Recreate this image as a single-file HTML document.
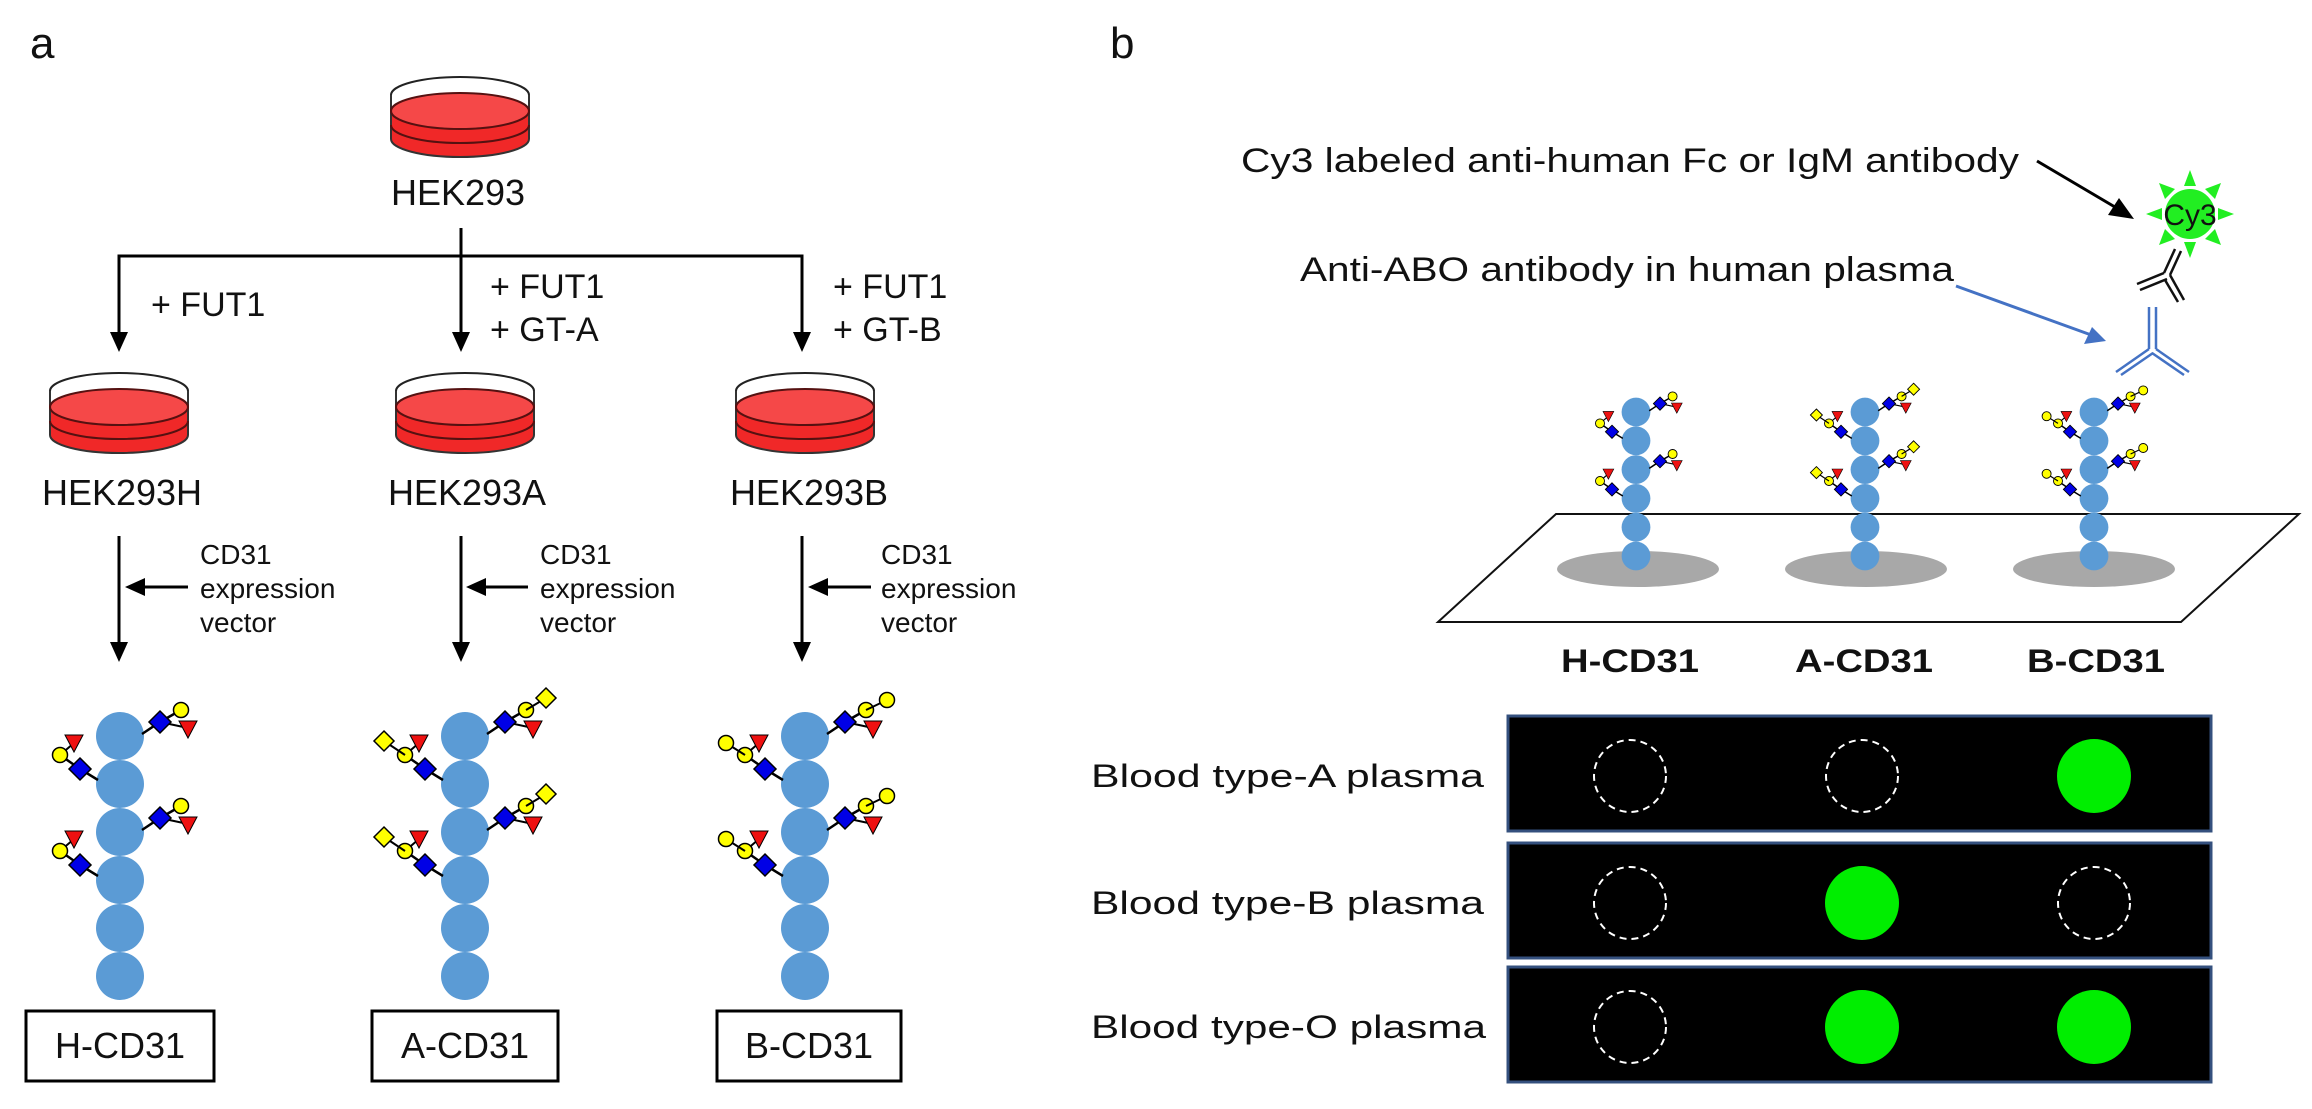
<!DOCTYPE html>
<html><head><meta charset="utf-8"><style>
html,body{margin:0;padding:0;background:#fff;}
svg{display:block;}
text{font-family:"Liberation Sans",sans-serif;fill:#111;}
</style></head><body>
<svg width="2312" height="1109" viewBox="0 0 2312 1109" xmlns="http://www.w3.org/2000/svg">
<defs>
  <marker id="ah" markerWidth="10" markerHeight="10" refX="9" refY="5" orient="auto" markerUnits="userSpaceOnUse" viewBox="0 0 10 10">
  </marker>
  <g id="dish">
    <ellipse cx="0" cy="-22" rx="69" ry="18" fill="#fff" stroke="#222" stroke-width="2"/>
    <rect x="-69" y="-22" width="138" height="14" fill="#fff"/>
    <ellipse cx="0" cy="22" rx="69" ry="18" fill="#f02828" stroke="#333" stroke-width="2"/>
    <rect x="-69" y="-6" width="138" height="28" fill="#f02828"/>
    <line x1="-69" y1="-6" x2="-69" y2="22" stroke="#333" stroke-width="2"/>
    <line x1="69" y1="-6" x2="69" y2="22" stroke="#333" stroke-width="2"/>
    <line x1="-69" y1="-22" x2="-69" y2="-6" stroke="#333" stroke-width="2"/>
    <line x1="69" y1="-22" x2="69" y2="-6" stroke="#333" stroke-width="2"/>
    <ellipse cx="0" cy="-6" rx="69" ry="18" fill="#f54848" stroke="#551111" stroke-width="2"/>
    <path d="M-69,8 A69,18 0 0 0 69,8" fill="none" stroke="#551111" stroke-width="2"/>
  </g>
  <g id="gR">
    <polyline points="22,-2 40,-14 61,-26" fill="none" stroke="#000" stroke-width="2.5"/>
    <line x1="40" y1="-14" x2="68" y2="-8" stroke="#000" stroke-width="2"/>
    <polygon points="40,-25 51,-14 40,-3 29,-14" fill="#0000e6" stroke="#000" stroke-width="1.5"/>
    <circle cx="61" cy="-26" r="7.5" fill="#ffff00" stroke="#000" stroke-width="1.5"/>
    <polygon points="59,-15 77,-15 68,2" fill="#ee1111" stroke="#000" stroke-width="1"/>
  </g>
  <g id="gL">
    <polyline points="-22,-4 -40,-15 -60,-29" fill="none" stroke="#000" stroke-width="2.5"/>
    <line x1="-60" y1="-29" x2="-46" y2="-41" stroke="#000" stroke-width="2"/>
    <polygon points="-40,-26 -29,-15 -40,-4 -51,-15" fill="#0000e6" stroke="#000" stroke-width="1.5"/>
    <circle cx="-60" cy="-29" r="7.5" fill="#ffff00" stroke="#000" stroke-width="1.5"/>
    <polygon points="-55,-49 -37,-49 -46,-32" fill="#ee1111" stroke="#000" stroke-width="1"/>
  </g>
  <g id="xAR"><line x1="61" y1="-26" x2="81" y2="-38" stroke="#000" stroke-width="2"/><polygon points="81,-48 91,-38 81,-28 71,-38" fill="#ffff00" stroke="#000" stroke-width="1.5"/></g>
  <g id="xAL"><line x1="-60" y1="-29" x2="-81" y2="-43" stroke="#000" stroke-width="2"/><polygon points="-81,-53 -71,-43 -81,-33 -91,-43" fill="#ffff00" stroke="#000" stroke-width="1.5"/></g>
  <g id="xBR"><line x1="61" y1="-26" x2="82" y2="-36" stroke="#000" stroke-width="2"/><circle cx="82" cy="-36" r="7.5" fill="#ffff00" stroke="#000" stroke-width="1.5"/></g>
  <g id="xBL"><line x1="-60" y1="-29" x2="-79" y2="-41" stroke="#000" stroke-width="2"/><circle cx="-79" cy="-41" r="7.5" fill="#ffff00" stroke="#000" stroke-width="1.5"/></g>
  <g id="circles" fill="#5b9bd5">
    <circle cx="0" cy="0" r="24"/><circle cx="0" cy="48" r="24"/><circle cx="0" cy="96" r="24"/>
    <circle cx="0" cy="144" r="24"/><circle cx="0" cy="192" r="24"/><circle cx="0" cy="240" r="24"/>
  </g>
  <g id="chH"><use href="#circles"/><use href="#gR"/><use href="#gR" y="96"/><use href="#gL" y="48"/><use href="#gL" y="144"/></g>
  <g id="chA"><use href="#circles"/><use href="#gR"/><use href="#gR" y="96"/><use href="#gL" y="48"/><use href="#gL" y="144"/>
    <use href="#xAR"/><use href="#xAR" y="96"/><use href="#xAL" y="48"/><use href="#xAL" y="144"/></g>
  <g id="chB"><use href="#circles"/><use href="#gR"/><use href="#gR" y="96"/><use href="#gL" y="48"/><use href="#gL" y="144"/>
    <use href="#xBR"/><use href="#xBR" y="96"/><use href="#xBL" y="48"/><use href="#xBL" y="144"/></g>
</defs>

<!-- Panel a -->
<text x="30" y="58" font-size="44">a</text>
<text x="1110" y="58" font-size="44">b</text>

<use href="#dish" x="460" y="117"/>
<text x="458" y="205" font-size="36" text-anchor="middle">HEK293</text>

<g stroke="#000" stroke-width="3" fill="none">
  <line x1="461" y1="228" x2="461" y2="335"/>
  <polyline points="119,335 119,256 802,256 802,335"/>
</g>
<g fill="#000">
  <polygon points="110,332 128,332 119,352"/>
  <polygon points="452,332 470,332 461,352"/>
  <polygon points="793,332 811,332 802,352"/>
</g>
<g font-size="34">
  <text x="151" y="316">+ FUT1</text>
  <text x="490" y="298">+ FUT1</text>
  <text x="490" y="341">+ GT-A</text>
  <text x="833" y="298">+ FUT1</text>
  <text x="833" y="341">+ GT-B</text>
</g>

<use href="#dish" x="119" y="413"/>
<use href="#dish" x="465" y="413"/>
<use href="#dish" x="805" y="413"/>
<g font-size="36" text-anchor="middle">
  <text x="122" y="505">HEK293H</text>
  <text x="467" y="505">HEK293A</text>
  <text x="809" y="505">HEK293B</text>
</g>

<g stroke="#000" stroke-width="3">
  <line x1="119" y1="536" x2="119" y2="645"/>
  <line x1="461" y1="536" x2="461" y2="645"/>
  <line x1="802" y1="536" x2="802" y2="645"/>
  <line x1="140" y1="587" x2="188" y2="587"/>
  <line x1="482" y1="587" x2="528" y2="587"/>
  <line x1="823" y1="587" x2="871" y2="587"/>
</g>
<g fill="#000">
  <polygon points="110,642 128,642 119,662"/>
  <polygon points="452,642 470,642 461,662"/>
  <polygon points="793,642 811,642 802,662"/>
  <polygon points="125,587 145,578 145,596"/>
  <polygon points="466,587 486,578 486,596"/>
  <polygon points="808,587 828,578 828,596"/>
</g>
<g font-size="28" fill="#222">
  <text x="200" y="564">CD31</text><text x="200" y="598">expression</text><text x="200" y="632">vector</text>
  <text x="540" y="564">CD31</text><text x="540" y="598">expression</text><text x="540" y="632">vector</text>
  <text x="881" y="564">CD31</text><text x="881" y="598">expression</text><text x="881" y="632">vector</text>
</g>

<use href="#chH" transform="translate(120,736)"/>
<use href="#chA" transform="translate(465,736)"/>
<use href="#chB" transform="translate(805,736)"/>

<g fill="#fff" stroke="#000" stroke-width="3">
  <rect x="26" y="1011" width="188" height="70"/>
  <rect x="372" y="1011" width="186" height="70"/>
  <rect x="717" y="1011" width="184" height="70"/>
</g>
<g font-size="36" text-anchor="middle">
  <text x="120" y="1058">H-CD31</text>
  <text x="465" y="1058">A-CD31</text>
  <text x="809" y="1058">B-CD31</text>
</g>

<!-- Panel b -->
<text x="1241" y="172" font-size="34" textLength="778" lengthAdjust="spacingAndGlyphs">Cy3 labeled anti-human Fc or IgM antibody</text>
<line x1="2037" y1="161" x2="2120" y2="210" stroke="#000" stroke-width="3"/>
<polygon points="2134,219 2108,215 2119,198" fill="#000"/>

<g fill="#22ee22">
  <polygon points="2190,170 2184,186 2196,186"/>
  <polygon points="2190,258 2184,242 2196,242"/>
  <polygon points="2146,214 2162,208 2162,220"/>
  <polygon points="2234,214 2218,208 2218,220"/>
  <polygon points="2159,183 2165,199 2175,189"/>
  <polygon points="2221,183 2215,199 2205,189"/>
  <polygon points="2159,245 2165,229 2175,239"/>
  <polygon points="2221,245 2215,229 2205,239"/>
  <circle cx="2190" cy="214" r="25"/>
</g>
<text x="2190" y="225" font-size="30" text-anchor="middle">Cy3</text>

<g stroke="#111" stroke-width="2.5" fill="none">
  <line x1="2175" y1="249" x2="2164" y2="273"/><line x1="2181" y1="251" x2="2170" y2="275"/>
  <line x1="2164" y1="273" x2="2137" y2="284"/><line x1="2167" y1="279" x2="2140" y2="290"/>
  <line x1="2170" y1="275" x2="2184" y2="300"/><line x1="2165" y1="280" x2="2178" y2="302"/>
</g>

<text x="1300" y="281" font-size="34" textLength="654" lengthAdjust="spacingAndGlyphs">Anti-ABO antibody in human plasma</text>
<line x1="1956" y1="286" x2="2094" y2="336" stroke="#4472c4" stroke-width="3"/>
<polygon points="2106,341 2084,344 2092,327" fill="#4472c4"/>

<g stroke="#4472c4" stroke-width="2.5" fill="none">
  <line x1="2149" y1="307" x2="2149" y2="349"/><line x1="2156" y1="307" x2="2156" y2="349"/>
  <line x1="2149" y1="349" x2="2116" y2="372"/><line x1="2153" y1="353" x2="2121" y2="375"/>
  <line x1="2156" y1="349" x2="2189" y2="372"/><line x1="2152" y1="353" x2="2184" y2="375"/>
</g>

<polygon points="1556,514 2299,514 2181,622 1438,622" fill="#fff" stroke="#111" stroke-width="2"/>
<g fill="#a8a8a8">
  <ellipse cx="1638" cy="569" rx="81" ry="18"/>
  <ellipse cx="1866" cy="569" rx="81" ry="18"/>
  <ellipse cx="2094" cy="569" rx="81" ry="18"/>
</g>
<use href="#chH" transform="translate(1636,412) scale(0.6)"/>
<use href="#chA" transform="translate(1865,412) scale(0.6)"/>
<use href="#chB" transform="translate(2094,412) scale(0.6)"/>

<g font-size="32" font-weight="bold" text-anchor="middle">
  <text x="1630" y="672" textLength="138" lengthAdjust="spacingAndGlyphs">H-CD31</text>
  <text x="1864" y="672" textLength="138" lengthAdjust="spacingAndGlyphs">A-CD31</text>
  <text x="2096" y="672" textLength="138" lengthAdjust="spacingAndGlyphs">B-CD31</text>
</g>

<g fill="#000" stroke="#34507e" stroke-width="3">
  <rect x="1508" y="716" width="703" height="115"/>
  <rect x="1508" y="843" width="703" height="115"/>
  <rect x="1508" y="967" width="703" height="115"/>
</g>
<g fill="none" stroke="#fff" stroke-width="2" stroke-dasharray="7,5">
  <circle cx="1630" cy="776" r="36"/><circle cx="1862" cy="776" r="36"/>
  <circle cx="1630" cy="903" r="36"/><circle cx="2094" cy="903" r="36"/>
  <circle cx="1630" cy="1027" r="36"/>
</g>
<g fill="#00ee00">
  <circle cx="2094" cy="776" r="37"/>
  <circle cx="1862" cy="903" r="37"/>
  <circle cx="1862" cy="1027" r="37"/><circle cx="2094" cy="1027" r="37"/>
</g>
<g font-size="32" text-anchor="end">
  <text x="1484" y="787" textLength="393" lengthAdjust="spacingAndGlyphs">Blood type-A plasma</text>
  <text x="1484" y="914" textLength="393" lengthAdjust="spacingAndGlyphs">Blood type-B plasma</text>
  <text x="1486" y="1038" textLength="395" lengthAdjust="spacingAndGlyphs">Blood type-O plasma</text>
</g>
</svg>
</body></html>
